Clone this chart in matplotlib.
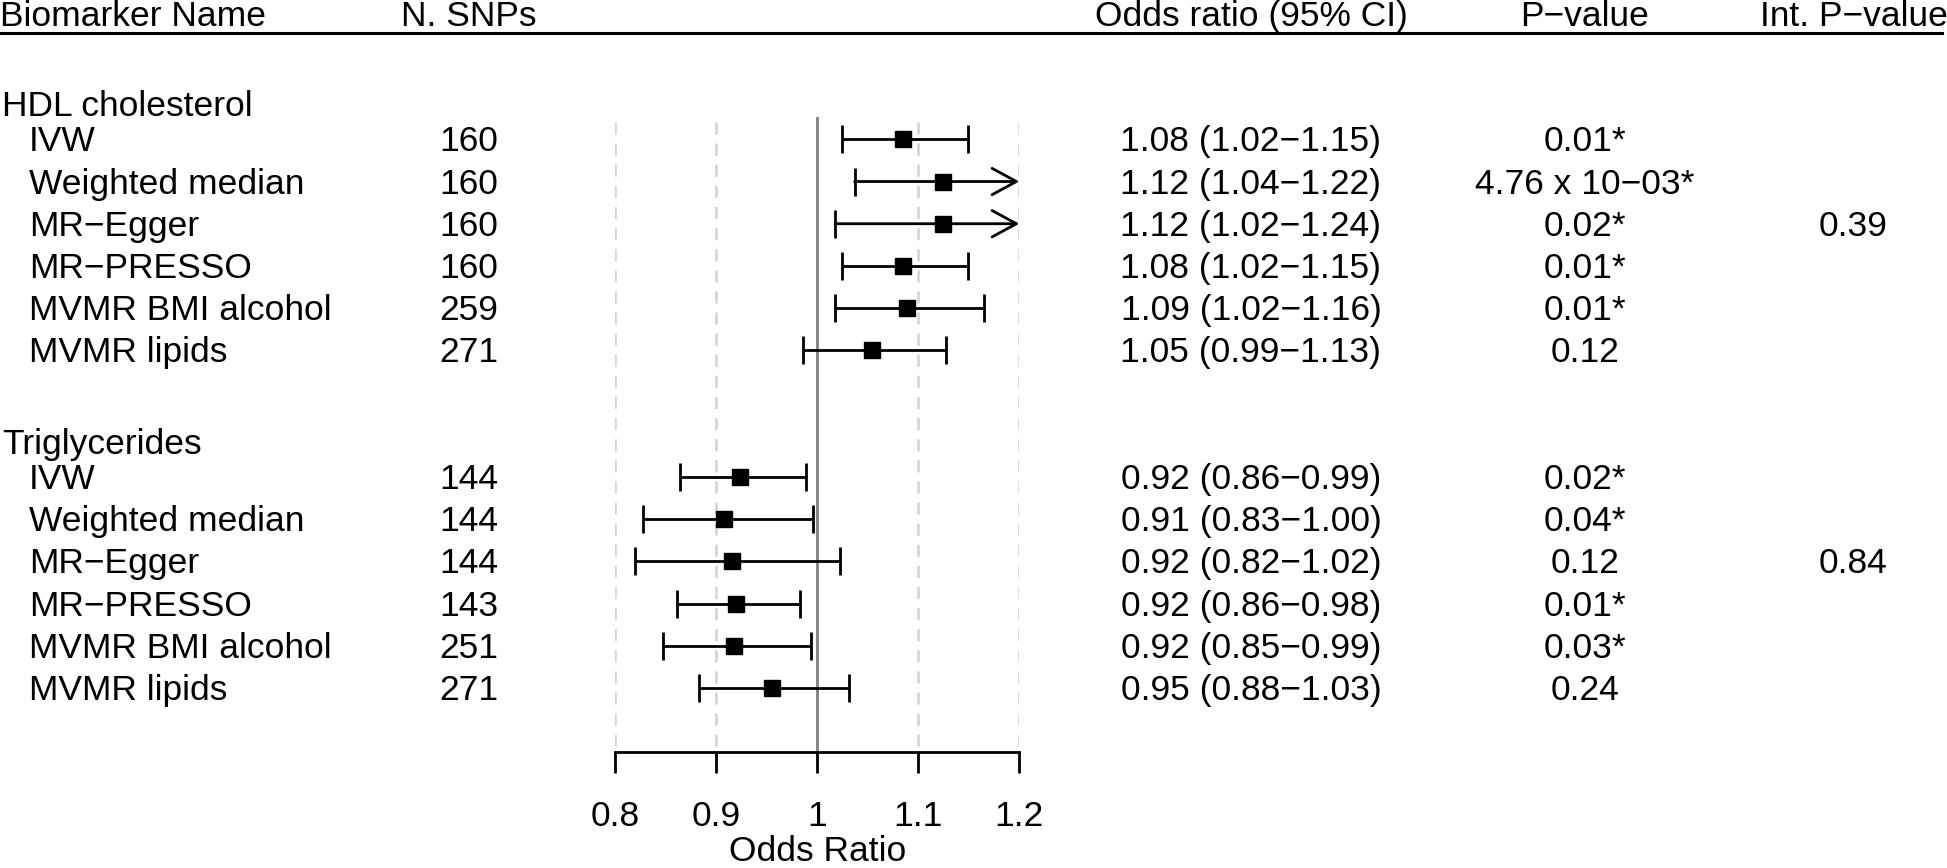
import matplotlib
matplotlib.use("Agg")
import matplotlib.pyplot as plt
import matplotlib.transforms as mtransforms
from matplotlib.lines import Line2D

plt.rcParams['font.family'] = ['Liberation Sans', 'DejaVu Sans']

# ---------------- data ----------------
headers = ["Biomarker Name", "N. SNPs", "Odds ratio (95% CI)", "P\u2212value", "Int. P\u2212value"]
groups = ["HDL cholesterol", "Triglycerides"]
methods = ["IVW", "Weighted median", "MR\u2212Egger", "MR\u2212PRESSO", "MVMR BMI alcohol", "MVMR lipids"]

n_snps = ["160", "160", "160", "160", "259", "271",
          "144", "144", "144", "143", "251", "271"]

or_est = [1.085, 1.125, 1.125, 1.085, 1.089, 1.054,
          0.924, 0.908, 0.916, 0.920, 0.918, 0.955]
ci_lo = [1.025, 1.037, 1.018, 1.025, 1.018, 0.986,
         0.8645, 0.8275, 0.820, 0.8615, 0.847, 0.883]
ci_hi = [1.149, 1.22, 1.24, 1.149, 1.165, 1.127,
         0.989, 0.996, 1.023, 0.983, 0.994, 1.032]

or_text = ["1.08 (1.02\u22121.15)", "1.12 (1.04\u22121.22)", "1.12 (1.02\u22121.24)",
           "1.08 (1.02\u22121.15)", "1.09 (1.02\u22121.16)", "1.05 (0.99\u22121.13)",
           "0.92 (0.86\u22120.99)", "0.91 (0.83\u22121.00)", "0.92 (0.82\u22121.02)",
           "0.92 (0.86\u22120.98)", "0.92 (0.85\u22120.99)", "0.95 (0.88\u22121.03)"]
p_text = ["0.01*", "4.76 x 10\u221203*", "0.02*", "0.01*", "0.01*", "0.12",
          "0.02*", "0.04*", "0.12", "0.01*", "0.03*", "0.24"]
int_p_text = ["", "", "0.39", "", "", "",
              "", "", "0.84", "", "", ""]

xticks = [0.8, 0.9, 1.0, 1.1, 1.2]
xticklabels = ["0.8", "0.9", "1", "1.1", "1.2"]
x_min, x_max = 0.8, 1.2

# row layout (row index units)
rows = [1, 2, 3, 4, 5, 6, 9, 10, 11, 12, 13, 14]
group_rows = [0.17, 8.17]
header_row = -1.97
underline_row = -1.51

# ---------------- figure ----------------
W, H = 1947, 868
fig = plt.figure(figsize=(W / 100, H / 100), dpi=100)
fs = 25.5

ax_left, ax_right = 615 / W, 1019.3 / W
ax_top_px, ax_bot_px = 116.7, 751.7
ax = fig.add_axes([ax_left, (H - ax_bot_px) / H, ax_right - ax_left, (ax_bot_px - ax_top_px) / H])
ax.set_xlim(x_min, x_max)
ax.set_ylim(15.51, 0.464)

for s in ["left", "right", "top"]:
    ax.spines[s].set_visible(False)
ax.spines["bottom"].set_linewidth(2.0)
ax.set_yticks([])
ax.set_xticks(xticks)
ax.set_xticklabels(xticklabels, fontsize=fs)
ax.tick_params(axis="x", direction="out", length=15, width=2.0, pad=20)
ax.set_xlabel("Odds Ratio", fontsize=fs, labelpad=1)

# reference lines
grid_x = [t for t in xticks if t != 1.0]
ax.vlines(grid_x, 0.583, 15.51, colors="#d4d4d4", linewidth=1.9,
          linestyles=[(0, (4.6, 3.4))], zorder=1)
ax.axvline(1.0, color="#808080", linewidth=2.0, zorder=2)

# forest marks
for r, est, lo, hi in zip(rows, or_est, ci_lo, ci_hi):
    ax.plot([lo], [r], marker="|", markersize=19.5, markeredgewidth=2.0, color="black", zorder=3)
    if hi <= x_max:
        ax.hlines(r, lo, hi, colors="black", linewidth=2.0, zorder=3)
        ax.plot([hi], [r], marker="|", markersize=19.5, markeredgewidth=2.0, color="black", zorder=3)
    else:
        ax.annotate("", xy=(x_max, r), xytext=(lo, r),
                    arrowprops=dict(arrowstyle="->,head_length=1.75,head_width=0.95",
                                    lw=2.0, color="black", shrinkA=0, shrinkB=0,
                                    mutation_scale=10),
                    annotation_clip=False, zorder=3)
    ax.plot([est], [r], marker="s", markersize=11.5, color="black", zorder=4, clip_on=False)

# text table
blend = mtransforms.blended_transform_factory(fig.transFigure, ax.transData)
ttrans = blend + mtransforms.ScaledTranslation(0, -0.12, fig.dpi_scale_trans)

col_name_x = 0 / W
col_method_x = 29 / W
col_n_x = 468.5 / W
col_or_x = 1251 / W
col_p_x = 1585 / W
col_int_x = 1853.5 / W

hdr_x = [(col_name_x, "left"), (col_n_x, "center"), (col_or_x, "center"),
         (col_p_x, "center"), (col_int_x, "center")]
for (x, ha), txt in zip(hdr_x, headers):
    ax.text(x, header_row, txt, transform=ttrans, ha=ha, va="baseline", fontsize=fs, clip_on=False)

fig.add_artist(Line2D([0, 1942 / W], [underline_row, underline_row], transform=blend,
                      color="black", linewidth=2.2))

for g, gr in zip(groups, group_rows):
    ax.text(col_name_x + 2 / W, gr, g, transform=ttrans, ha="left", va="baseline", fontsize=fs)

for i, r in enumerate(rows):
    ax.text(col_method_x, r, methods[i % len(methods)], transform=ttrans, ha="left", va="baseline", fontsize=fs)
    ax.text(col_n_x, r, n_snps[i], transform=ttrans, ha="center", va="baseline", fontsize=fs)
    ax.text(col_or_x, r, or_text[i], transform=ttrans, ha="center", va="baseline", fontsize=fs)
    ax.text(col_p_x, r, p_text[i], transform=ttrans, ha="center", va="baseline", fontsize=fs)
    if int_p_text[i]:
        ax.text(col_int_x, r, int_p_text[i], transform=ttrans, ha="center", va="baseline", fontsize=fs)

fig.savefig("out.png", dpi=100)
